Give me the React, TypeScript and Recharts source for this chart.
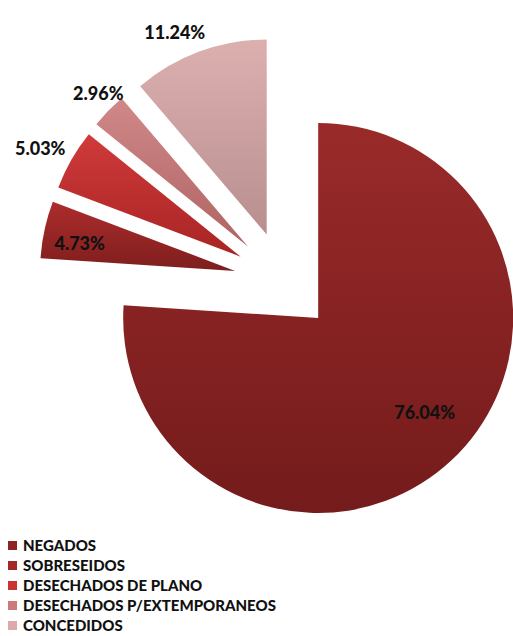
import { PieChart, Pie, Sector, Cell } from "recharts";

const categories = [
  "NEGADOS",
  "SOBRESEIDOS",
  "DESECHADOS DE PLANO",
  "DESECHADOS P/EXTEMPORANEOS",
  "CONCEDIDOS",
];
const percentages = [76.04, 4.73, 5.03, 2.96, 11.24];
const valueLabels = ["76.04%", "4.73%", "5.03%", "2.96%", "11.24%"];

// gradient top / bottom colours for each slice, legend uses the middle
const topColors = ["#9a2a2a", "#ad2c2c", "#d03a3a", "#d08888", "#ddb0b0"];
const bottomColors = ["#741b1b", "#7e1e1e", "#a82424", "#b06464", "#b88e8e"];
const legendColors = ["#8c2424", "#a42828", "#cc3333", "#cc7a7a", "#dcaaaa"];

// label placement from the (exploded) apex: radius factor and angle nudge
const labelRadius = [0.73, 0.81, 1.17, 1.1, 1.14];
const labelAngleShift = [5.3, 2, 1.25, -1.5, 4.2];

const EXPLODE = 50;
const RAD = Math.PI / 180;
const FONT = "Lato, 'Open Sans', sans-serif";

const data = categories.map((name, i) => ({ name, value: percentages[i] }));

const ExplodedSector = (props: any) => {
  const { cx, cy, midAngle } = props;
  const dx = Math.cos(-midAngle * RAD) * EXPLODE;
  const dy = Math.sin(-midAngle * RAD) * EXPLODE;
  return <Sector {...props} cx={cx + dx} cy={cy + dy} stroke="none" />;
};

const renderLabel = (props: any) => {
  const { cx, cy, midAngle, outerRadius, index } = props;
  const ax = cx + Math.cos(-midAngle * RAD) * EXPLODE;
  const ay = cy + Math.sin(-midAngle * RAD) * EXPLODE;
  const a = midAngle + labelAngleShift[index];
  const r = outerRadius * labelRadius[index];
  const x = ax + Math.cos(-a * RAD) * r;
  const y = ay + Math.sin(-a * RAD) * r;
  return (
    <text
      x={x}
      y={y}
      textAnchor="middle"
      dominantBaseline="central"
      fill="#111"
      fontFamily={FONT}
      fontWeight={900}
      fontSize={18}
    >
      {valueLabels[index]}
    </text>
  );
};

export default function App() {
  return (
    <div style={{ position: "absolute", left: 0, top: 0, width: 513, height: 636, background: "#fff" }}>
      <PieChart width={513} height={530} margin={{ top: 0, right: 0, bottom: 0, left: 0 }}>
        <defs>
          {topColors.map((c, i) => (
            <linearGradient key={i} id={`slice${i}`} x1="0" y1="0" x2="0" y2="1">
              <stop offset="0%" stopColor={c} />
              <stop offset="100%" stopColor={bottomColors[i]} />
            </linearGradient>
          ))}
        </defs>
        <Pie
          data={data}
          dataKey="value"
          nameKey="name"
          cx={284}
          cy={281.5}
          outerRadius={195}
          startAngle={90}
          endAngle={-270}
          stroke="none"
          shape={ExplodedSector}
          label={renderLabel}
          labelLine={false}
          isAnimationActive={false}
        >
          {data.map((_, i) => (
            <Cell key={i} fill={`url(#slice${i})`} />
          ))}
        </Pie>
      </PieChart>
      <div style={{ position: "absolute", left: 8, top: 535 }}>
        {categories.map((name, i) => (
          <div
            key={name}
            style={{
              display: "flex",
              alignItems: "center",
              height: 20,
              fontFamily: FONT,
              fontWeight: 900,
              fontSize: 15,
              color: "#111",
            }}
          >
            <span
              style={{
                display: "inline-block",
                width: 9,
                height: 9,
                background: legendColors[i],
                marginRight: 6,
              }}
            />
            {name}
          </div>
        ))}
      </div>
    </div>
  );
}
